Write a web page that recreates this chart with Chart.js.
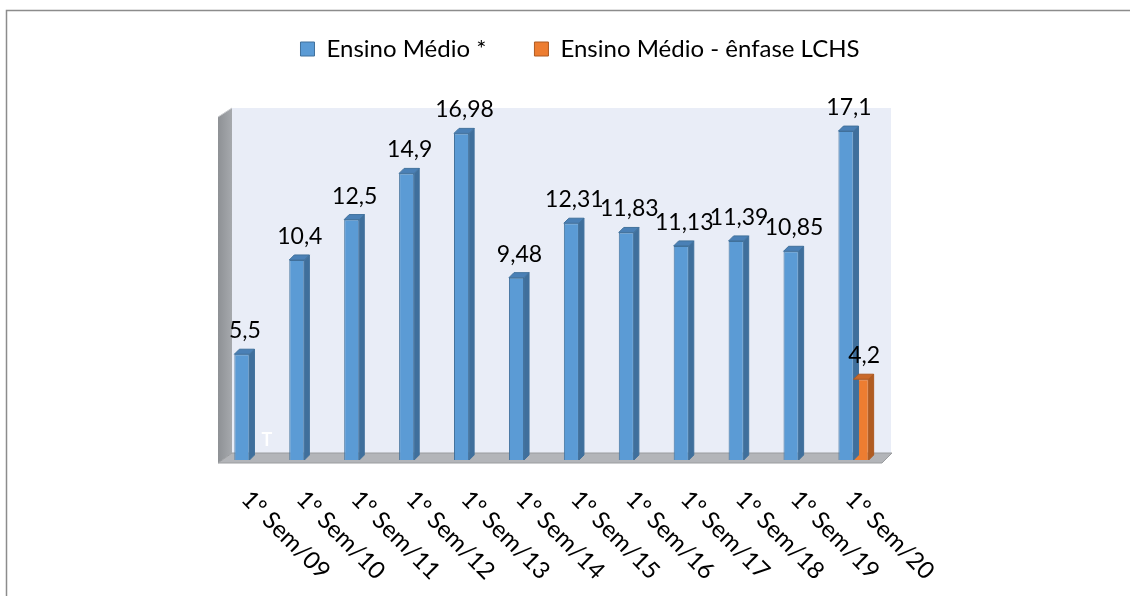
<!DOCTYPE html>
<html>
<head>
<meta charset="utf-8">
<script src="https://cdn.jsdelivr.net/npm/chart.js@4/dist/chart.umd.min.js"></script>
<style>
  html, body { margin: 0; padding: 0; background: #fff; overflow: hidden; }
</style>
</head>
<body>
<canvas id="chart" width="1130" height="596"></canvas>
<script>
const categories = ["1º Sem/09", "1º Sem/10", "1º Sem/11", "1º Sem/12", "1º Sem/13", "1º Sem/14",
  "1º Sem/15", "1º Sem/16", "1º Sem/17", "1º Sem/18", "1º Sem/19", "1º Sem/20"];
const seriesNames = ["Ensino Médio *", "Ensino Médio - ênfase LCHS"];
const ensinoMedio = [5.5, 10.4, 12.5, 14.9, 16.98, 9.48, 12.31, 11.83, 11.13, 11.39, 10.85, 17.1];
const ensinoLCHS = [null, null, null, null, null, null, null, null, null, null, null, 4.2];
const yMax = 18.3;

const FONT = "Lato, 'Open Sans', sans-serif";
const DEPTH = 5; // bar 3d offset

const faces = [
  { front: "#5b9bd5", side: "#3f6f9c", top: "#4a80b6", edge: "#41719c" },
  { front: "#ed7d31", side: "#b05c22", top: "#c9692a", edge: "#ae5a21" }
];

const fmt = (v) => String(v).replace(".", ",");

const frame3d = {
  id: "frame3d",
  beforeInit(chart) {
    // push plot area down under the legend
    const fit = chart.legend.fit;
    chart.legend.fit = function () {
      fit.call(this);
      this.height = 119;
    };
  },
  beforeDraw(chart) {
    const ctx = chart.ctx;
    ctx.save();
    ctx.strokeStyle = "#8c8c8c";
    ctx.lineWidth = 1.5;
    ctx.beginPath();
    ctx.moveTo(6.5, 600);
    ctx.lineTo(6.5, 10.5);
    ctx.lineTo(1135, 10.5);
    ctx.stroke();
    ctx.restore();
  },
  beforeDatasetsDraw(chart) {
    const { ctx, chartArea: a } = chart;
    const L = a.left, R = a.right, T = a.top, B = a.bottom;
    ctx.save();
    // back wall
    ctx.fillStyle = "#e9edf7";
    ctx.fillRect(L + 10, T, R - L, B - 7 - T);
    // left wall
    const g = ctx.createLinearGradient(L - 4, 0, L + 10, 0);
    g.addColorStop(0, "#8e9195");
    g.addColorStop(1, "#a6a9ad");
    ctx.fillStyle = g;
    ctx.beginPath();
    ctx.moveTo(L - 4, T + 9);
    ctx.lineTo(L + 10, T);
    ctx.lineTo(L + 10, B - 7);
    ctx.lineTo(L - 4, B + 3);
    ctx.closePath();
    ctx.fill();
    ctx.strokeStyle = "#c8cacd";
    ctx.lineWidth = 1;
    ctx.beginPath();
    ctx.moveTo(L - 4, T + 9);
    ctx.lineTo(L + 10, T);
    ctx.stroke();
    // floor
    ctx.fillStyle = "#b3b5b9";
    ctx.beginPath();
    ctx.moveTo(L - 4, B + 3);
    ctx.lineTo(R + 1, B + 3);
    ctx.lineTo(R + 11, B - 7);
    ctx.lineTo(L + 10, B - 7);
    ctx.closePath();
    ctx.fill();
    ctx.strokeStyle = "#9a9c9f";
    ctx.stroke();
    ctx.restore();
  },
  afterDatasetsDraw(chart) {
    const ctx = chart.ctx;
    ctx.save();
    chart.data.datasets.forEach((ds, di) => {
      const f = faces[di];
      chart.getDatasetMeta(di).data.forEach((bar, i) => {
        if (ds.data[i] == null) return;
        const { x, y, base, width } = bar.getProps(["x", "y", "base", "width"], true);
        const l = x - width / 2, r = x + width / 2;
        ctx.lineWidth = 1;
        ctx.strokeStyle = f.edge;
        // side
        ctx.fillStyle = f.side;
        ctx.beginPath();
        ctx.moveTo(r, y);
        ctx.lineTo(r + DEPTH, y - DEPTH);
        ctx.lineTo(r + DEPTH, base - DEPTH);
        ctx.lineTo(r, base);
        ctx.closePath();
        ctx.fill();
        ctx.stroke();
        // top
        ctx.fillStyle = f.top;
        ctx.beginPath();
        ctx.moveTo(l, y);
        ctx.lineTo(l + DEPTH, y - DEPTH);
        ctx.lineTo(r + DEPTH, y - DEPTH);
        ctx.lineTo(r, y);
        ctx.closePath();
        ctx.fill();
        ctx.stroke();
        // value label
        ctx.fillStyle = "#000";
        ctx.font = "23px " + FONT;
        ctx.textAlign = "center";
        ctx.textBaseline = "alphabetic";
        ctx.fillText(fmt(ds.data[i]), x + 3, y - 16);
      });
    });
    ctx.restore();
  },
  afterDraw(chart) {
    const ctx = chart.ctx;
    const xs = chart.scales.x;
    const a = chart.chartArea;
    ctx.save();
    ctx.fillStyle = "#000";
    ctx.font = "24px " + FONT;
    ctx.textAlign = "left";
    ctx.textBaseline = "middle";
    categories.forEach((c, i) => {
      const px = xs.getPixelForValue(i);
      ctx.save();
      ctx.translate(px - 4, a.bottom + 35);
      ctx.rotate(Math.PI / 4);
      ctx.fillText(c, 0, 0);
      ctx.restore();
    });
    // stray white mark inside the plot
    ctx.fillStyle = "#fff";
    ctx.font = "bold 18px " + FONT;
    ctx.fillText("T", xs.getPixelForValue(0) + 12, a.bottom - 20);
    ctx.restore();
  }
};

new Chart(document.getElementById("chart"), {
  type: "bar",
  data: {
    labels: categories,
    datasets: [
      {
        label: seriesNames[0],
        data: ensinoMedio,
        backgroundColor: faces[0].front,
        borderColor: faces[0].edge,
        borderWidth: 1
      },
      {
        label: seriesNames[1],
        data: ensinoLCHS,
        backgroundColor: faces[1].front,
        borderColor: faces[1].edge,
        borderWidth: 1
      }
    ]
  },
  options: {
    responsive: false,
    animation: false,
    devicePixelRatio: 1,
    categoryPercentage: 0.55,
    barPercentage: 1.0,
    layout: { padding: { top: -11, left: 30, right: 0, bottom: 0 } },
    plugins: {
      legend: {
        position: "top",
        labels: {
          boxWidth: 14,
          boxHeight: 14,
          padding: 48,
          color: "#000",
          font: { family: FONT, size: 24 }
        }
      },
      tooltip: { enabled: false }
    },
    scales: {
      x: {
        grid: { display: false },
        border: { display: false },
        ticks: { display: false },
        afterFit: (axis) => { axis.height = 136; }
      },
      y: {
        min: 0,
        max: yMax,
        grid: { display: false },
        border: { display: false },
        ticks: { display: false },
        afterFit: (axis) => { axis.width = 192; }
      },
      y2: {
        position: "right",
        grid: { display: false },
        border: { display: false },
        ticks: { display: false },
        afterFit: (axis) => { axis.width = 249; }
      }
    }
  },
  plugins: [frame3d]
});
</script>
</body>
</html>
